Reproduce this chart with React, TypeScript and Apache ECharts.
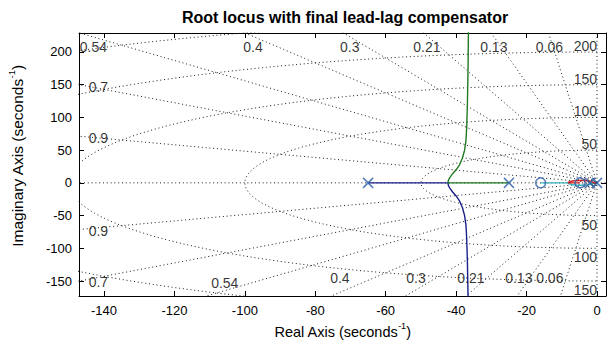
import { useEffect, useRef } from 'react';
import * as echarts from 'echarts';

// Axis ticks
const xTicks = [-140, -120, -100, -80, -60, -40, -20, 0];
const yTicks = [-150, -100, -50, 0, 50, 100, 150, 200];
const xRange = [-147.1, 2.56];
const yRange = [-172.9, 229.0];

// s-plane grid (damping ratios and natural frequencies)
const zetaValues = [0.06, 0.13, 0.21, 0.3, 0.4, 0.54, 0.7, 0.9];
const wnValues = [50, 100, 150, 200, 250];

// Grid label positions
const zetaLabelText = ['0.54', '0.4', '0.3', '0.21', '0.13', '0.06', '0.7', '0.9', '0.9', '0.7', '0.54', '0.4', '0.3', '0.21', '0.13', '0.06'];
const zetaLabelX = [-143.0, -97.7, -70.2, -48.3, -29.3, -13.5, -141.6, -141.6, -141.6, -141.6, -105.7, -73, -51.4, -35.8, -22.2, -13.4];
const zetaLabelY = [207, 207, 207, 207, 207, 207, 147, 68, -73.5, -151, -152.6, -146, -146, -146, -146, -146];
const wnLabels = [50, 100, 150, 200];

// Open-loop poles and zeros
const polesRe = [-65, -25, -2, 0];
const zerosRe = [-16, -4.8];

// Root locus branches
const branchBlue: [number, number][] = [
  [-65, 0], [-42.3, 0], [-42.2, -4], [-41.8, -8], [-41, -14], [-40, -20], [-39, -28],
  [-38.2, -38], [-37.6, -50], [-37.2, -65], [-37, -85], [-36.8, -120], [-36.6, -180], [-36.5, -240],
];
const branchGreen: [number, number][] = [
  [-25, 0], [-42.3, 0], [-42.2, 4], [-41.8, 8], [-41, 14], [-40, 20], [-39, 28],
  [-38.2, 38], [-37.6, 50], [-37.2, 65], [-37, 85], [-36.8, 120], [-36.6, 180], [-36.5, 240],
];
const branchRed: [number, number][] = [
  [0, 0], [-1, 0], [-1.3, 1.5], [-2.2, 2.8], [-3.5, 3.5], [-4.8, 3.7], [-6.1, 3.4],
  [-7.3, 2.5], [-8, 1.2], [-8.2, 0], [-4.8, 0],
];
const branchCyan: [number, number][] = [
  [-2, 0], [-1, 0], [-1.3, -1.5], [-2.2, -2.8], [-3.5, -3.5], [-4.8, -3.7], [-6.1, -3.4],
  [-7.3, -2.5], [-8, -1.2], [-8.2, 0], [-16, 0],
];

const FONT = '"Liberation Sans", Arial, sans-serif';
const GRID_COLOR = '#1a1a1a';
const MARK_COLOR = '#2a5ea6';

export default function App() {
  const ref = useRef<HTMLDivElement>(null);
  useEffect(() => {
    document.body.style.margin = '0';
    const chart = echarts.init(ref.current!, null, { renderer: 'svg' });

    const dotted = { color: GRID_COLOR, width: 1, type: [1, 2.8] as number[] };
    const gridSeries: any[] = [];
    const R = 600;
    zetaValues.forEach((z) => {
      const w = Math.sqrt(1 - z * z);
      gridSeries.push({
        type: 'line', silent: true, symbol: 'none', z: 1,
        lineStyle: dotted,
        data: [[-z * R, w * R], [0, 0], [-z * R, -w * R]],
      });
    });
    wnValues.forEach((wn) => {
      const pts: number[][] = [];
      for (let a = 90; a <= 270; a += 2) {
        const t = (a * Math.PI) / 180;
        pts.push([wn * Math.cos(t), wn * Math.sin(t)]);
      }
      gridSeries.push({
        type: 'line', silent: true, symbol: 'none', z: 1, lineStyle: dotted, data: pts,
      });
    });
    gridSeries.push({ type: 'line', silent: true, symbol: 'none', z: 1, lineStyle: dotted, data: [[-300, 0], [10, 0]] });
    gridSeries.push({ type: 'line', silent: true, symbol: 'none', z: 1, lineStyle: dotted, data: [[0, -400], [0, 400]] });

    const branch = (data: [number, number][], color: string) => ({
      type: 'line', silent: true, symbol: 'none', z: 3,
      lineStyle: { color, width: 1.4 }, data,
    });

    const labelStyle = { color: '#000', fontSize: 14, fontFamily: FONT };
    const nameRich = {
      a: { fontSize: 14.5, fontFamily: FONT, fill: '#000', color: '#000', lineHeight: 18, verticalAlign: 'bottom' },
      s: { fontSize: 9, fontFamily: FONT, fill: '#000', color: '#000', lineHeight: 18, verticalAlign: 'top' },
    };
    const yNameRich = {
      a: { fontSize: 15.5, fontFamily: FONT, fill: '#000', color: '#000', lineHeight: 19, verticalAlign: 'bottom' },
      s: { fontSize: 9.5, fontFamily: FONT, fill: '#000', color: '#000', lineHeight: 19, verticalAlign: 'top' },
    };

    const option: any = {
      animation: false,
      title: {
        text: 'Root locus with final lead-lag compensator',
        left: 340, top: 4, textAlign: 'center',
        textStyle: { fontSize: 16, fontWeight: 'bold', color: '#000', fontFamily: FONT },
      },
      grid: { left: 79, top: 33, width: 527, height: 263, containLabel: false },
      graphic: [
        {
          type: 'text', x: 16, y: 156, rotation: Math.PI / 2,
          style: {
            text: '{a|Imaginary Axis (seconds}{s|-1}{a|)}',
            rich: yNameRich, align: 'center', verticalAlign: 'middle', fill: '#000',
          },
        },
      ],
      xAxis: [
        {
          type: 'value', min: xRange[0], max: xRange[1], position: 'bottom',
          axisLine: { onZero: false, lineStyle: { color: '#000', width: 1 } },
          axisTick: { inside: true, length: 5, customValues: xTicks, lineStyle: { color: '#000' } },
          axisLabel: { customValues: xTicks, color: '#000', fontSize: 13, fontFamily: FONT, margin: 8 },
          splitLine: { show: false },
          name: '{a|Real Axis (seconds}{s|-1}{a|)}',
          nameLocation: 'middle', nameGap: 23,
          nameTextStyle: { color: '#000', fontFamily: FONT, rich: nameRich },
        },
        {
          type: 'value', min: xRange[0], max: xRange[1], position: 'top',
          axisLine: { onZero: false, lineStyle: { color: '#000', width: 1 } },
          axisTick: { inside: true, length: 5, customValues: xTicks, lineStyle: { color: '#000' } },
          axisLabel: { show: false },
          splitLine: { show: false },
        },
      ],
      yAxis: [
        {
          type: 'value', min: yRange[0], max: yRange[1], position: 'left',
          axisLine: { onZero: false, lineStyle: { color: '#000', width: 1 } },
          axisTick: { inside: true, length: 5, customValues: yTicks, lineStyle: { color: '#000' } },
          axisLabel: { customValues: yTicks, color: '#000', fontSize: 13, fontFamily: FONT, margin: 7 },
          splitLine: { show: false },
        },
        {
          type: 'value', min: yRange[0], max: yRange[1], position: 'right',
          axisLine: { onZero: false, lineStyle: { color: '#000', width: 1 } },
          axisTick: { inside: true, length: 5, customValues: yTicks, lineStyle: { color: '#000' } },
          axisLabel: { show: false },
          splitLine: { show: false },
        },
      ],
      series: [
        ...gridSeries,
        branch(branchBlue, '#1b1f8a'),
        branch(branchGreen, '#1f7a22'),
        branch(branchCyan, '#35b5c4'),
        branch(branchRed, '#d42020'),
        {
          type: 'scatter', silent: true, z: 5,
          symbol: 'path://M0,0L10,10M10,0L0,10', symbolSize: 10,
          itemStyle: { color: 'none', borderColor: MARK_COLOR, borderWidth: 1.5 },
          data: polesRe.map((p) => [p, 0]),
        },
        {
          type: 'scatter', silent: true, z: 5,
          symbol: 'circle', symbolSize: 10,
          itemStyle: { color: 'none', borderColor: MARK_COLOR, borderWidth: 1.5 },
          data: zerosRe.map((p) => [p, 0]),
        },
        {
          type: 'scatter', silent: true, z: 4, symbolSize: 0,
          itemStyle: { color: 'transparent' },
          label: { show: true, position: 'inside', ...labelStyle, formatter: (p: any) => zetaLabelText[p.dataIndex] },
          data: zetaLabelX.map((x, i) => [x, zetaLabelY[i]]),
        },
        {
          type: 'scatter', silent: true, z: 4, symbolSize: 0,
          itemStyle: { color: 'transparent' },
          label: { show: true, position: [0, 1], align: 'right', verticalAlign: 'bottom', ...labelStyle, formatter: (p: any) => String(wnLabels[p.dataIndex]) },
          data: wnLabels.map((w) => [0, w]),
        },
        {
          type: 'scatter', silent: true, z: 4, symbolSize: 0,
          itemStyle: { color: 'transparent' },
          label: { show: true, position: [0, 2], align: 'right', verticalAlign: 'top', ...labelStyle, formatter: (p: any) => String(wnLabels[p.dataIndex]) },
          data: wnLabels.map((w) => [0, -w]),
        },
      ],
    };
    chart.setOption(option);
    return () => chart.dispose();
  }, []);
  return <div ref={ref} style={{ width: 608, height: 347 }} />;
}
